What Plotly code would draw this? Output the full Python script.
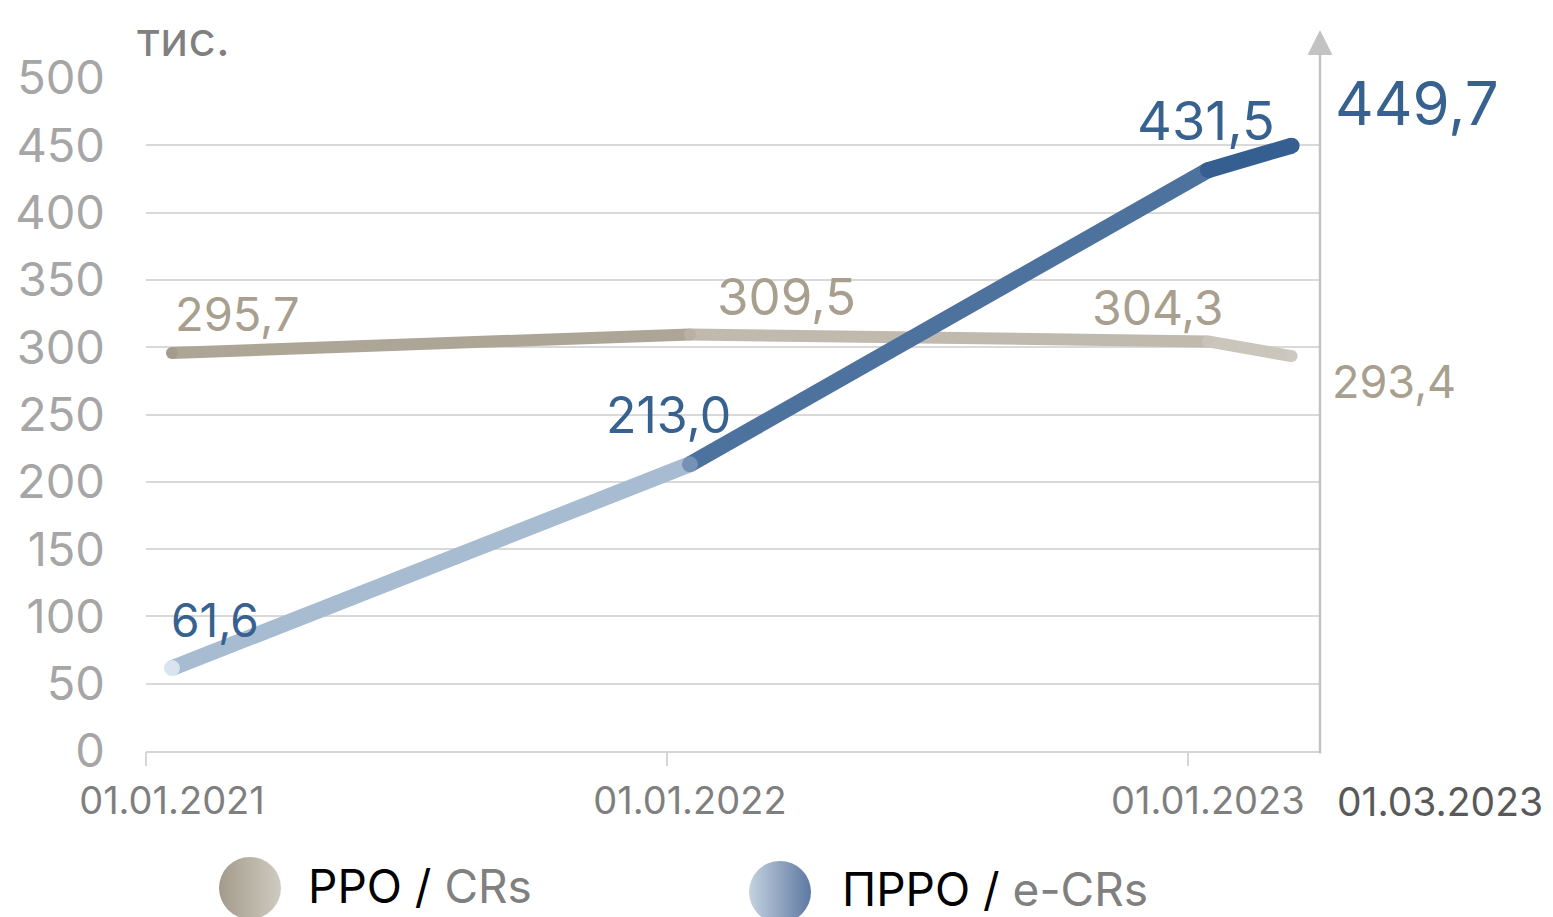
import plotly.graph_objects as go

# ---- data ----
dates = ["2021-01-01", "2022-01-01", "2023-01-01", "2023-03-01"]
date_labels = ["01.01.2021", "01.01.2022", "01.01.2023", "01.03.2023"]
rro = [295.7, 309.5, 304.3, 293.4]      # РРО / CRs
prro = [61.6, 213.0, 431.5, 449.7]      # ПРРО / e-CRs
y_ticks = [0, 50, 100, 150, 200, 250, 300, 350, 400, 450, 500]
boundary_ticks = ["2020-12-14", "2021-12-16", "2022-12-18"]

# ---- layout helpers (page offset compensation) ----
W, H, OFF = 1553, 917, 8
def px(x):
    return (x - OFF) / W
def py(y):
    return 1 - (y - OFF) / H

# ---- styles ----
FONT = "Inter"
BLUE = "#37618f"
BEIGE = "#a89f8f"
rro_seg_colors = ["#ada595", "#c0baae", "#cbc6bc"]
rro_pt_colors = ["#a39b8b", "#b8b1a4", "#c9c4ba", "#cdc9c0"]
prro_seg_colors = ["#a7bbd1", "#4e729e", "#365f91"]
prro_pt_colors = ["#dae4ee", "#7592b5", "#365f91", "#365f91"]

def fmt(v):
    return f"{v:.1f}".replace(".", ",")

fig = go.Figure()

# РРО line (segments)
for i in range(len(dates) - 1):
    fig.add_trace(go.Scatter(x=dates[i:i + 2], y=rro[i:i + 2], mode="lines",
                             line=dict(color=rro_seg_colors[i], width=12),
                             showlegend=False, hoverinfo="skip"))
fig.add_trace(go.Scatter(x=dates, y=rro, mode="markers",
                         marker=dict(color=rro_pt_colors, size=12, line=dict(width=0)),
                         showlegend=False, hoverinfo="skip"))
# ПРРО line (segments)
for i in range(len(dates) - 1):
    fig.add_trace(go.Scatter(x=dates[i:i + 2], y=prro[i:i + 2], mode="lines",
                             line=dict(color=prro_seg_colors[i], width=16),
                             showlegend=False, hoverinfo="skip"))
fig.add_trace(go.Scatter(x=dates, y=prro, mode="markers",
                         marker=dict(color=prro_pt_colors, size=16, line=dict(width=0)),
                         showlegend=False, hoverinfo="skip"))

# invisible trace for boundary tick axis
fig.add_trace(go.Scatter(x=[dates[0]], y=[0], xaxis="x2", mode="markers",
                         marker=dict(opacity=0), showlegend=False, hoverinfo="skip"))

# custom legend in a bottom strip (y3 domain = bottom 10% of figure)
LEG_DOM = 0.1
def ly(y):
    return py(y) / LEG_DOM
legend_x = [px(250), px(780)]
legend_mark_y = [ly(888), ly(892)]
legend_text_y = [ly(886), ly(889)]
legend_text_shift = [56, 60]
legend_names = ["<span style='color:#000000'>РРО / </span><span style='color:#808080'>CRs</span>",
                "<span style='color:#000000'>ПРРО / </span><span style='color:#808080'>e-CRs</span>"]
legend_colors = [("#a49a8a", "#cfcbc2"), ("#c5d2df", "#5d78a2")]
for lx, lyv, (c1, c2) in zip(legend_x, legend_mark_y, legend_colors):
    fig.add_trace(go.Scatter(x=[lx], y=[lyv], xaxis="x3", yaxis="y3", mode="markers",
                             marker=dict(size=62, color=c1,
                                         gradient=dict(type="horizontal", color=c2),
                                         line=dict(width=0)),
                             showlegend=False, hoverinfo="skip", cliponaxis=False))

x_range = ["2020-12-13 17:00", "2023-03-21"]

annotations = []
# data labels: (series, index, color, size, xshift, yshift, xanchor)
label_specs = [
    (rro, 0, BEIGE, 47, 66, 39, "center"),
    (rro, 1, BEIGE, 51, 97, 38, "center"),
    (rro, 2, BEIGE, 48, -50, 34, "center"),
    (rro, 3, BEIGE, 45, 38, -25, "left"),
    (prro, 0, BLUE, 46, 43, 48, "center"),
    (prro, 1, BLUE, 50, -21, 49, "center"),
    (prro, 2, BLUE, 54, -2, 50, "center"),
    (prro, 3, BLUE, 60, 41, 43, "left"),
]
for series, i, col, sz, xs, ys, xa in label_specs:
    annotations.append(dict(x=dates[i], y=series[i], xref="x", yref="y",
                            text=fmt(series[i]), showarrow=False,
                            font=dict(family=FONT, size=sz, color=col),
                            xanchor=xa, yanchor="middle", xshift=xs, yshift=ys))

# last date label, right of the axis
annotations.append(dict(x=dates[3], y=0, xref="x", yref="y", text=date_labels[3],
                        showarrow=False, font=dict(family=FONT, size=39, color="#595959"),
                        xanchor="left", yanchor="middle", xshift=43, yshift=-50))
# unit label
annotations.append(dict(x=px(135), y=py(38), xref="paper", yref="paper", text="тис.",
                        showarrow=False, font=dict(family=FONT, size=48, color="#808080"),
                        xanchor="left", yanchor="middle"))
# right axis with arrow
annotations.append(dict(x=px(1320), y=py(30), xref="paper", yref="paper", text="",
                        showarrow=True, ax=0, ay=725, axref="pixel", ayref="pixel",
                        arrowhead=2, arrowsize=2, arrowwidth=2.5, arrowcolor="#c3c3c3",
                        standoff=0))
# legend texts
for lx, name, lyv, sh in zip(legend_x, legend_names, legend_text_y, legend_text_shift):
    annotations.append(dict(x=lx, y=lyv, xref="x3", yref="y3", text=name, showarrow=False,
                            font=dict(family=FONT, size=46, color="#000000"),
                            xanchor="left", yanchor="middle", xshift=sh))

fig.update_layout(
    width=W, height=H,
    margin=dict(l=0, r=0, t=0, b=0, pad=0, autoexpand=False),
    paper_bgcolor="white", plot_bgcolor="white",
    showlegend=False,
    xaxis=dict(domain=[px(146), px(1320)], type="date", range=x_range,
               tickvals=dates[:3], ticktext=date_labels[:3], ticks="",
               tickfont=dict(family=FONT, size=38, color="#7f7f7f"),
               showgrid=False, zeroline=False, showline=True, linecolor="#d6d6d6",
               linewidth=1.5, ticklabelstandoff=16, automargin=False),
    xaxis2=dict(overlaying="x", type="date", range=x_range, tickvals=boundary_ticks,
                showticklabels=False, ticks="outside", ticklen=14, tickwidth=1.5,
                tickcolor="#d6d6d6", showgrid=False, zeroline=False, showline=False,
                side="bottom", anchor="y", automargin=False),
    yaxis=dict(domain=[py(751), py(78)], range=[0, 500],
               tickvals=y_ticks, ticks="", showgrid=True, gridcolor="#d9d9d9",
               gridwidth=1.5, zeroline=False, showline=False,
               tickfont=dict(family=FONT, size=47, color="#a6a6a6"),
               ticklabelstandoff=40, automargin=False),
    xaxis3=dict(domain=[0, 1], range=[0, 1], visible=False, fixedrange=True, automargin=False),
    yaxis3=dict(domain=[0, LEG_DOM], range=[0, 1], visible=False, fixedrange=True, anchor="x3",
                automargin=False),
    annotations=annotations,
)

fig.write_html("out.html")
